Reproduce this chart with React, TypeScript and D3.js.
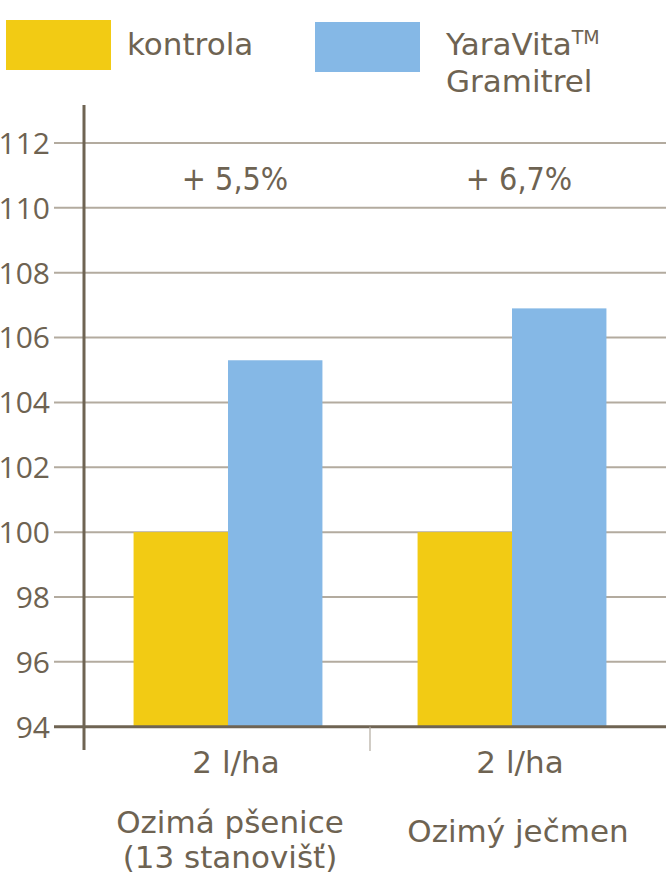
import React from "react";
import * as d3 from "d3";

const categories = ["Ozimá pšenice", "Ozimý ječmen"];
const categoryLines = [["Ozimá pšenice", "(13 stanovišť)"], ["Ozimý ječmen"]];
const doses = ["2 l/ha", "2 l/ha"];
const kontrola = [100, 100];
const gramitrel = [105.3, 106.9];
const increases = ["+ 5,5%", "+ 6,7%"];
const yTicks = [94, 96, 98, 100, 102, 104, 106, 108, 110, 112];
const seriesNames = ["kontrola", "YaraVita", "Gramitrel"];

const W = 666;
const H = 892;
const TEXT = "#6e6352";
const YELLOW = "#f2cb14";
const BLUE = "#85b8e6";
const GRID = "#b3ab9f";
const AXIS = "#6f6453";
const FONT = "'DejaVu Sans', sans-serif";
const CFONT = "'DejaVu Sans Condensed', 'DejaVu Sans', sans-serif";
const NUMFONT = "'Open Sans', sans-serif";

export default function App() {
  const y = d3.scaleLinear().domain([94, 112]).range([726.7, 143]);
  const x = d3
    .scaleBand<string>()
    .domain(categories)
    .range([86, 654])
    .paddingInner(0.335)
    .paddingOuter(0.1675);
  const bw = x.bandwidth();
  const half = bw / 2;

  return (
    <svg
      width={W}
      height={H}
      style={{ position: "absolute", left: 0, top: 0, background: "#fff" }}
    >
      {/* legend */}
      <rect x={6} y={20} width={105} height={50} fill={YELLOW} />
      <text x={127} y={55} fontFamily={FONT} fontSize={31} fill={TEXT}>
        {seriesNames[0]}
      </text>
      <rect x={315} y={22} width={105} height={50} fill={BLUE} />
      <text x={446} y={55} fontFamily={FONT} fontSize={31} fill={TEXT}>
        {seriesNames[1]}
        <tspan fontSize={19} dy={-11}>TM</tspan>
      </text>
      <text x={446} y={92} fontFamily={FONT} fontSize={31} fill={TEXT}>
        {seriesNames[2]}
      </text>

      {/* gridlines */}
      {yTicks.slice(1).map((t) => (
        <line
          key={t}
          x1={54}
          x2={W}
          y1={y(t)}
          y2={y(t)}
          stroke={GRID}
          strokeWidth={2}
        />
      ))}
      {/* tick labels */}
      {yTicks.map((t) => (
        <text
          key={"l" + t}
          x={50}
          y={y(t)}
          dy="0.36em"
          textAnchor="end"
          fontFamily={NUMFONT}
          fontSize={30}
          fill={TEXT}
        >
          {t}
        </text>
      ))}

      {/* bars */}
      {categories.map((c, i) => (
        <g key={c}>
          <rect
            x={x(c)!}
            y={y(kontrola[i])}
            width={half}
            height={y(94) - y(kontrola[i])}
            fill={YELLOW}
          />
          <rect
            x={x(c)! + half}
            y={y(gramitrel[i])}
            width={half}
            height={y(94) - y(gramitrel[i])}
            fill={BLUE}
          />
          <text
            x={x(c)! + half + 7}
            y={190}
            textAnchor="middle"
            fontFamily={CFONT}
            fontSize={32}
            fill={TEXT}
          >
            {increases[i]}
          </text>
          <text
            x={x(c)! + half + 8}
            y={773}
            textAnchor="middle"
            fontFamily={FONT}
            fontSize={31}
            fill={TEXT}
          >
            {doses[i]}
          </text>
          {categoryLines[i].map((ln, j) => (
            <text
              key={j}
              x={x(c)! + half + (categoryLines[i].length === 1 ? 6 : 2)}
              y={categoryLines[i].length === 1 ? 842 : 833 + j * 35}
              textAnchor="middle"
              fontFamily={FONT}
              fontSize={31}
              fill={TEXT}
            >
              {ln}
            </text>
          ))}
        </g>
      ))}

      {/* axes */}
      <line x1={54} x2={W} y1={y(94)} y2={y(94)} stroke={AXIS} strokeWidth={3} />
      <line x1={84} x2={84} y1={105} y2={750} stroke={AXIS} strokeWidth={3} />
      <line
        x1={(x(categories[0])! + bw + x(categories[1])!) / 2}
        x2={(x(categories[0])! + bw + x(categories[1])!) / 2}
        y1={y(94)}
        y2={751}
        stroke={GRID}
        strokeWidth={1.2}
      />
    </svg>
  );
}
